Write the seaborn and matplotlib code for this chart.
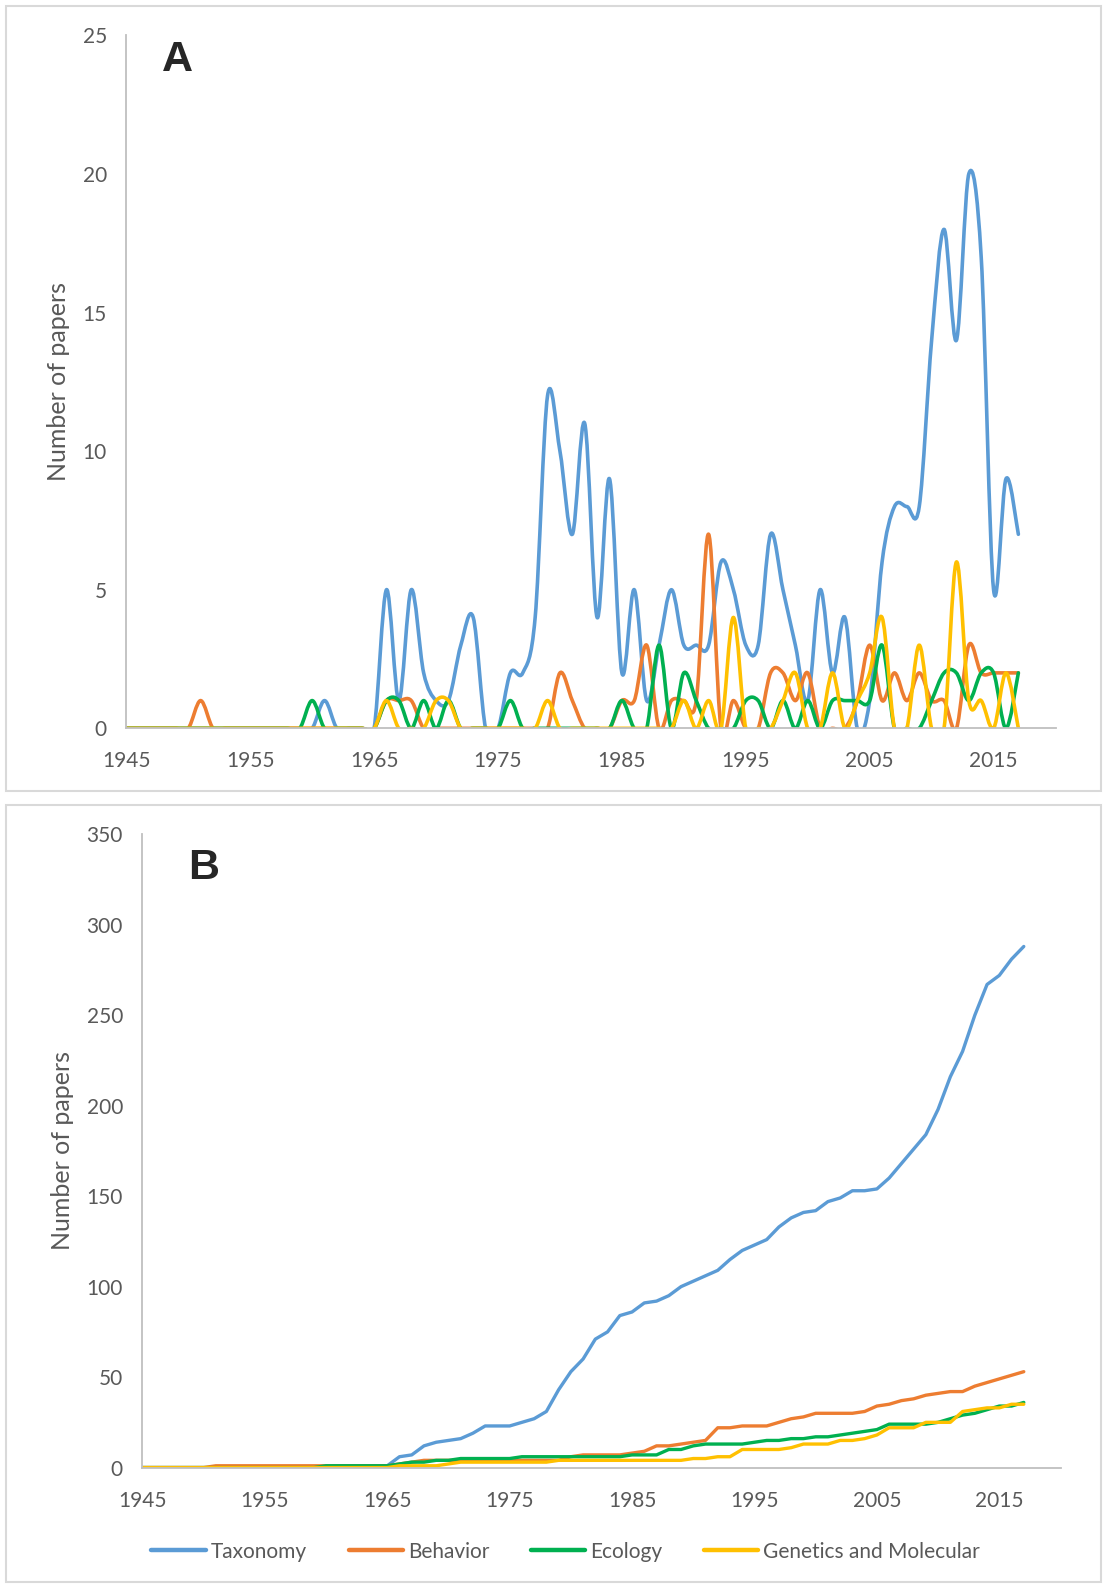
import numpy as np
import pandas as pd
import matplotlib
matplotlib.use("Agg")
import matplotlib.pyplot as plt
import seaborn as sns
from matplotlib.path import Path
from matplotlib.patches import PathPatch, Rectangle

# papers per year, 1945-2017
years = list(range(1945, 2018))

taxonomy = [0, 0, 0, 0, 0, 0, 0, 0, 0, 0,
            0, 0, 0, 0, 0, 0, 1, 0, 0, 0,
            0, 5, 1, 5, 2, 1, 1, 3, 4, 0,
            0, 2, 2, 4, 12, 10, 7, 11, 4, 9,
            2, 5, 1, 3, 5, 3, 3, 3, 6, 5,
            3, 3, 7, 5, 3, 1, 5, 2, 4, 0,
            1, 6, 8, 8, 8, 14, 18, 14, 20, 17,
            5, 9, 7]
behavior = [0, 0, 0, 0, 0, 0, 1, 0, 0, 0,
            0, 0, 0, 0, 0, 0, 0, 0, 0, 0,
            0, 1, 1, 1, 0, 0, 0, 0, 0, 0,
            0, 0, 0, 0, 0, 2, 1, 0, 0, 0,
            1, 1, 3, 0, 1, 1, 1, 7, 0, 1,
            0, 0, 2, 2, 1, 2, 0, 0, 0, 1,
            3, 1, 2, 1, 2, 1, 1, 0, 3, 2,
            2, 2, 2]
ecology = [0, 0, 0, 0, 0, 0, 0, 0, 0, 0,
           0, 0, 0, 0, 0, 1, 0, 0, 0, 0,
           0, 1, 1, 0, 1, 0, 1, 0, 0, 0,
           0, 1, 0, 0, 0, 0, 0, 0, 0, 0,
           1, 0, 0, 3, 0, 2, 1, 0, 0, 0,
           1, 1, 0, 1, 0, 1, 0, 1, 1, 1,
           1, 3, 0, 0, 0, 1, 2, 2, 1, 2,
           2, 0, 2]
genetics = [0, 0, 0, 0, 0, 0, 0, 0, 0, 0,
            0, 0, 0, 0, 0, 0, 0, 0, 0, 0,
            0, 1, 0, 0, 0, 1, 1, 0, 0, 0,
            0, 0, 0, 0, 1, 0, 0, 0, 0, 0,
            0, 0, 0, 0, 0, 1, 0, 1, 0, 4,
            0, 0, 0, 1, 2, 0, 0, 2, 0, 1,
            2, 4, 0, 0, 3, 0, 0, 6, 1, 1,
            0, 2, 0]

series_names = ["Taxonomy", "Behavior", "Ecology", "Genetics and Molecular"]
colors = ["#5B9BD5", "#ED7D31", "#00B050", "#FFC000"]
x_ticks = [1945, 1955, 1965, 1975, 1985, 1995, 2005, 2015]

sns.set_style("white")
plt.rcParams["font.family"] = ["Lato", "DejaVu Sans"]

grey_txt = "#595959"
axis_col = "#BFBFBF"


def smooth_path(x, y):
    # excel-like smoothed line (catmull-rom as bezier)
    n = len(x)
    verts = [(x[0], y[0])]
    codes = [Path.MOVETO]
    for i in range(n - 1):
        a = i - 1 if i > 0 else i
        d = i + 2 if i + 2 < n else i + 1
        c1 = (x[i] + (x[i + 1] - x[a]) / 6, y[i] + (y[i + 1] - y[a]) / 6)
        c2 = (x[i + 1] - (x[d] - x[i]) / 6, y[i + 1] - (y[d] - y[i]) / 6)
        verts += [c1, c2, (x[i + 1], y[i + 1])]
        codes += [Path.CURVE4] * 3
    return Path(verts, codes)


def style_axis(ax, xpad):
    ax.spines[["top", "right"]].set_visible(False)
    for s in ["left", "bottom"]:
        ax.spines[s].set_color(axis_col)
        ax.spines[s].set_linewidth(1.3)
    ax.tick_params(length=0, labelsize=15, colors=grey_txt)
    ax.tick_params(axis="x", pad=xpad)
    ax.tick_params(axis="y", pad=14)
    ax.set_xticks(x_ticks)
    ax.set_xlim(1945, 2020)
    ax.grid(False)


fig = plt.figure(figsize=(11.04, 15.84), dpi=100)

# panel frames
fig.add_artist(Rectangle((0.0054, 0.5006), 0.9918, 0.4956, transform=fig.transFigure,
                         fill=False, edgecolor="#D9D9D9", lw=1.5))
fig.add_artist(Rectangle((0.0054, 0.0013), 0.9918, 0.4905, transform=fig.transFigure,
                         fill=False, edgecolor="#D9D9D9", lw=1.5))

# ---- A: papers per year
axA = fig.add_axes([0.1144, 0.5402, 0.8417, 0.4375])
annual = [taxonomy, behavior, ecology, genetics]
for vals, col in zip(annual, colors):
    p = PathPatch(smooth_path(np.array(years, float), np.array(vals, float)),
                  facecolor="none", edgecolor=col, lw=2.6,
                  capstyle="round", joinstyle="round")
    axA.add_patch(p)
axA.set_ylim(0, 25)
axA.set_yticks([0, 5, 10, 15, 20, 25])
style_axis(axA, 16)
axA.set_xlabel("")
axA.set_ylabel("Number of papers", fontsize=18, color=grey_txt)
axA.yaxis.set_label_coords(-0.061, 0.5)

# ---- B: cumulative
df = pd.DataFrame({"year": years})
for name, vals in zip(series_names, annual):
    df[name] = np.cumsum(vals)
long = df.melt(id_vars="year", var_name="field", value_name="papers")

axB = fig.add_axes([0.129, 0.0735, 0.8316, 0.3998])
sns.lineplot(data=long, x="year", y="papers", hue="field", hue_order=series_names,
             palette=colors, lw=2.4, ax=axB)
for ln in axB.lines:
    ln.set_solid_joinstyle("round")
axB.set_ylim(0, 350)
axB.set_yticks(range(0, 351, 50))
style_axis(axB, 17)
axB.set_xlabel("")
axB.set_ylabel("Number of papers", fontsize=18, color=grey_txt)
axB.yaxis.set_label_coords(-0.074, 0.5)

handles, labels = axB.get_legend_handles_labels()
axB.get_legend().remove()
for h in handles:
    h.set_linewidth(3.2)
leg = fig.legend(handles, labels, loc="center", bbox_to_anchor=(0.5125, 0.0205), ncol=4,
                 frameon=False, fontsize=15, handlelength=2.6, handletextpad=0.25,
                 columnspacing=2.0)
for t in leg.get_texts():
    t.set_color(grey_txt)

# panel letters
fig.text(0.1464, 0.9554, "A", fontsize=31, fontweight="bold",
         family=["Liberation Sans", "DejaVu Sans"], ha="left", va="baseline")
fig.text(0.1703, 0.4451, "B", fontsize=31, fontweight="bold",
         family=["Liberation Sans", "DejaVu Sans"], ha="left", va="baseline")

fig.savefig("out.png", dpi=100)
